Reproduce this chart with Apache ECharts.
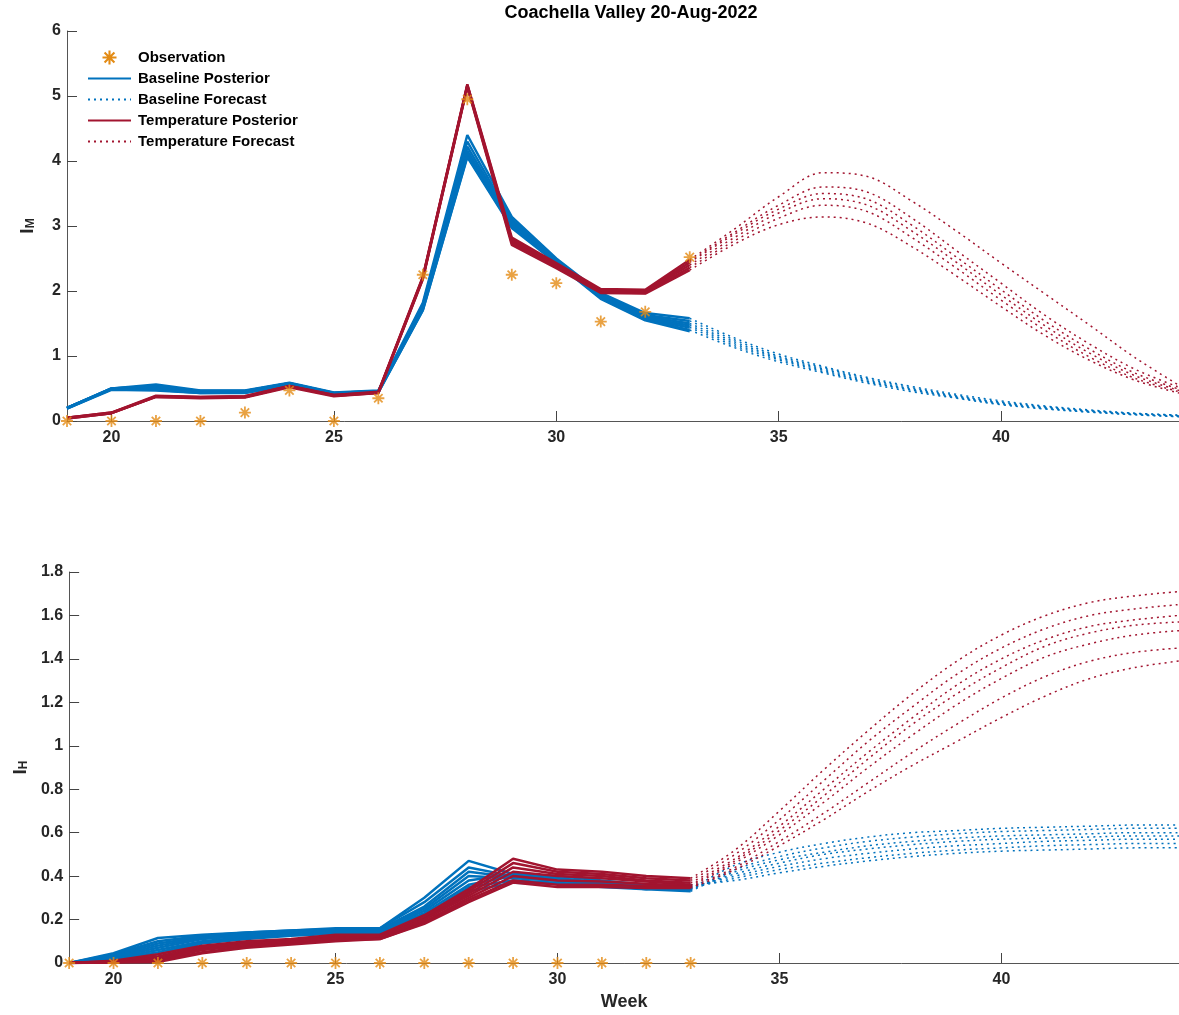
<!DOCTYPE html>
<html>
<head>
<meta charset="utf-8">
<title>Coachella Valley 20-Aug-2022</title>
<script src="https://cdn.jsdelivr.net/npm/echarts@6/dist/echarts.min.js"></script>
<style>
html, body { margin: 0; padding: 0; background: #fff; }
#main { width: 1179px; height: 1015px; }
</style>
</head>
<body>
<div id="main"></div>
<script>
// weeks
var weeksPost = [19, 20, 21, 22, 23, 24, 25, 26, 27, 28, 29, 30, 31, 32, 33];
var weeksFcst = [33, 34, 35, 36, 37, 38, 39, 40, 41, 42, 43, 44];

// observations
var obsM = [0, 0, 0, 0, 0.13, 0.47, 0, 0.35, 2.25, 4.95, 2.25, 2.12, 1.53, 1.68, 2.52];
var obsH = [0, 0, 0, 0, 0, 0, 0, 0, 0, 0, 0, 0, 0, 0, 0];

// I_M, baseline posterior members
var baseMPost = [
  [0.20, 0.50, 0.56, 0.47, 0.47, 0.59, 0.44, 0.47, 1.82, 4.40, 3.14, 2.50, 1.97, 1.66, 1.58],
  [0.20, 0.50, 0.54, 0.46, 0.46, 0.58, 0.43, 0.46, 1.79, 4.30, 3.10, 2.48, 1.95, 1.63, 1.54],
  [0.20, 0.50, 0.53, 0.46, 0.46, 0.58, 0.43, 0.46, 1.77, 4.22, 3.07, 2.47, 1.93, 1.61, 1.50],
  [0.20, 0.49, 0.51, 0.45, 0.45, 0.57, 0.42, 0.45, 1.75, 4.16, 3.04, 2.46, 1.92, 1.59, 1.47],
  [0.20, 0.49, 0.50, 0.44, 0.44, 0.56, 0.42, 0.45, 1.73, 4.12, 3.02, 2.45, 1.91, 1.57, 1.44],
  [0.19, 0.49, 0.48, 0.43, 0.44, 0.56, 0.41, 0.44, 1.71, 4.08, 2.99, 2.44, 1.89, 1.56, 1.40],
  [0.19, 0.48, 0.47, 0.43, 0.43, 0.55, 0.41, 0.44, 1.70, 4.06, 2.97, 2.43, 1.88, 1.55, 1.38]
];
// I_M, temperature posterior members
var tempMPost = [
  [0.05, 0.13, 0.39, 0.37, 0.38, 0.54, 0.40, 0.45, 2.22, 5.18, 2.82, 2.43, 2.03, 2.02, 2.48],
  [0.05, 0.13, 0.38, 0.37, 0.38, 0.54, 0.40, 0.44, 2.21, 5.17, 2.79, 2.41, 2.01, 2.00, 2.44],
  [0.05, 0.12, 0.38, 0.36, 0.37, 0.53, 0.39, 0.44, 2.20, 5.16, 2.76, 2.39, 2.00, 1.99, 2.40],
  [0.04, 0.12, 0.37, 0.36, 0.37, 0.53, 0.39, 0.43, 2.19, 5.15, 2.74, 2.37, 1.98, 1.97, 2.36],
  [0.04, 0.12, 0.37, 0.35, 0.36, 0.52, 0.38, 0.43, 2.18, 5.14, 2.71, 2.35, 1.97, 1.96, 2.32]
];
// I_M, baseline forecast members
var baseMFcst = [
  [1.58, 1.28, 1.03, 0.84, 0.67, 0.53, 0.41, 0.31, 0.23, 0.17, 0.12, 0.09],
  [1.54, 1.25, 1.00, 0.82, 0.65, 0.51, 0.39, 0.29, 0.22, 0.16, 0.115, 0.085],
  [1.50, 1.22, 0.98, 0.80, 0.63, 0.49, 0.38, 0.28, 0.21, 0.155, 0.11, 0.08],
  [1.47, 1.19, 0.96, 0.78, 0.61, 0.48, 0.37, 0.27, 0.20, 0.15, 0.105, 0.075],
  [1.44, 1.16, 0.94, 0.76, 0.60, 0.47, 0.36, 0.26, 0.19, 0.14, 0.10, 0.07],
  [1.40, 1.13, 0.91, 0.74, 0.58, 0.45, 0.35, 0.25, 0.185, 0.135, 0.095, 0.065]
];
// I_M, temperature forecast members
var tempMFcst = [
  [2.48, 2.95, 3.45, 3.82, 3.76, 3.38, 2.92, 2.43, 1.95, 1.47, 0.98, 0.55],
  [2.46, 2.90, 3.32, 3.60, 3.52, 3.12, 2.62, 2.12, 1.62, 1.18, 0.80, 0.52],
  [2.44, 2.87, 3.26, 3.50, 3.41, 3.01, 2.52, 2.02, 1.53, 1.10, 0.74, 0.49],
  [2.40, 2.82, 3.20, 3.42, 3.32, 2.92, 2.44, 1.94, 1.46, 1.04, 0.70, 0.47],
  [2.36, 2.77, 3.12, 3.32, 3.22, 2.82, 2.35, 1.86, 1.39, 0.98, 0.66, 0.45],
  [2.32, 2.72, 3.02, 3.14, 3.04, 2.68, 2.23, 1.76, 1.31, 0.93, 0.63, 0.43]
];

// I_H, baseline posterior members
var baseHPost = [
  [0, 0.045, 0.115, 0.13, 0.14, 0.15, 0.16, 0.16, 0.30, 0.47, 0.41, 0.39, 0.37, 0.35, 0.34],
  [0, 0.040, 0.100, 0.125, 0.14, 0.15, 0.155, 0.16, 0.28, 0.44, 0.40, 0.385, 0.365, 0.345, 0.335],
  [0, 0.035, 0.090, 0.12, 0.135, 0.145, 0.155, 0.155, 0.26, 0.42, 0.395, 0.38, 0.36, 0.34, 0.33],
  [0, 0.030, 0.080, 0.115, 0.13, 0.14, 0.15, 0.15, 0.25, 0.40, 0.39, 0.38, 0.36, 0.345, 0.34],
  [0, 0.025, 0.070, 0.11, 0.125, 0.14, 0.15, 0.15, 0.24, 0.38, 0.41, 0.40, 0.38, 0.36, 0.35],
  [0, 0.020, 0.060, 0.10, 0.12, 0.135, 0.145, 0.145, 0.23, 0.36, 0.40, 0.39, 0.37, 0.355, 0.345],
  [0, 0.015, 0.050, 0.095, 0.115, 0.13, 0.14, 0.14, 0.22, 0.35, 0.38, 0.37, 0.355, 0.345, 0.35],
  [0, 0.010, 0.040, 0.09, 0.11, 0.125, 0.135, 0.135, 0.21, 0.33, 0.37, 0.365, 0.35, 0.34, 0.36]
];
// I_H, temperature posterior members
var tempHPost = [
  [0, 0.010, 0.040, 0.080, 0.100, 0.110, 0.130, 0.130, 0.220, 0.34, 0.48, 0.43, 0.42, 0.40, 0.39],
  [0, 0.008, 0.030, 0.075, 0.095, 0.105, 0.125, 0.125, 0.210, 0.33, 0.46, 0.42, 0.41, 0.39, 0.38],
  [0, 0.006, 0.025, 0.070, 0.090, 0.100, 0.120, 0.120, 0.200, 0.32, 0.44, 0.41, 0.40, 0.38, 0.37],
  [0, 0.005, 0.020, 0.065, 0.085, 0.100, 0.115, 0.120, 0.200, 0.31, 0.42, 0.40, 0.39, 0.375, 0.36],
  [0, 0.004, 0.015, 0.060, 0.080, 0.095, 0.110, 0.115, 0.190, 0.30, 0.40, 0.38, 0.375, 0.365, 0.355],
  [0, 0.003, 0.010, 0.050, 0.075, 0.090, 0.105, 0.110, 0.185, 0.29, 0.38, 0.36, 0.36, 0.355, 0.35],
  [0, 0.002, 0.005, 0.045, 0.070, 0.085, 0.100, 0.110, 0.180, 0.28, 0.37, 0.35, 0.35, 0.345, 0.345]
];
// I_H, baseline forecast members
var baseHFcst = [
  [0.34, 0.45, 0.51, 0.55, 0.58, 0.60, 0.61, 0.62, 0.625, 0.63, 0.635, 0.635],
  [0.335, 0.43, 0.49, 0.53, 0.56, 0.58, 0.595, 0.605, 0.61, 0.615, 0.62, 0.62],
  [0.33, 0.42, 0.475, 0.51, 0.54, 0.56, 0.575, 0.585, 0.59, 0.595, 0.60, 0.60],
  [0.34, 0.41, 0.46, 0.50, 0.525, 0.545, 0.56, 0.57, 0.575, 0.58, 0.585, 0.585],
  [0.35, 0.40, 0.445, 0.48, 0.505, 0.525, 0.54, 0.55, 0.56, 0.565, 0.57, 0.57],
  [0.345, 0.39, 0.43, 0.46, 0.485, 0.505, 0.52, 0.53, 0.54, 0.545, 0.55, 0.55],
  [0.36, 0.38, 0.415, 0.445, 0.47, 0.49, 0.505, 0.515, 0.52, 0.525, 0.53, 0.53]
];
// I_H, temperature forecast members
var tempHFcst = [
  [0.39, 0.52, 0.70, 0.89, 1.07, 1.24, 1.39, 1.51, 1.60, 1.66, 1.69, 1.71],
  [0.38, 0.50, 0.66, 0.84, 1.02, 1.18, 1.33, 1.45, 1.54, 1.60, 1.63, 1.65],
  [0.37, 0.48, 0.63, 0.80, 0.97, 1.13, 1.28, 1.40, 1.49, 1.55, 1.58, 1.60],
  [0.36, 0.47, 0.61, 0.77, 0.94, 1.10, 1.24, 1.36, 1.46, 1.52, 1.555, 1.57],
  [0.355, 0.46, 0.59, 0.74, 0.90, 1.05, 1.19, 1.31, 1.41, 1.47, 1.51, 1.53],
  [0.35, 0.44, 0.56, 0.69, 0.83, 0.97, 1.10, 1.22, 1.32, 1.39, 1.43, 1.45],
  [0.345, 0.43, 0.54, 0.66, 0.79, 0.91, 1.02, 1.13, 1.23, 1.31, 1.36, 1.39]
];

var blue = '#0072BD';
var red = '#A2142F';
var orange = '#E38B14';
var textColor = '#262626';
var font = 'Liberation Sans, Arial, Helvetica, sans-serif';

// matlab-ish asterisk marker, drawn as 4 filled bars
var starPath = 'path://M0 8.5L20 8.5L20 11.5L0 11.5Z M8.5 0L11.5 0L11.5 20L8.5 20Z ' +
  'M4.0 1.9L18.1 16.0L16.0 18.1L1.9 4.0Z ' +
  'M16.0 1.9L18.1 4.0L4.0 18.1L1.9 16.0Z';

function pairs(xs, ys) {
  var out = [];
  for (var i = 0; i < xs.length; i++) out.push([xs[i], ys[i]]);
  return out;
}

function lineSeries(name, xs, ys, color, dotted, ax) {
  return {
    name: name,
    type: 'line',
    xAxisIndex: ax,
    yAxisIndex: ax,
    data: pairs(xs, ys),
    symbol: 'none',
    smooth: dotted ? 0.35 : false,
    silent: true,
    lineStyle: {
      color: color,
      width: dotted ? 1.5 : 2.5,
      type: dotted ? [2, 4] : 'solid'
    },
    itemStyle: { color: color },
    z: 2
  };
}

function obsSeries(ys, ax) {
  return {
    name: 'Observation',
    type: 'scatter',
    xAxisIndex: ax,
    yAxisIndex: ax,
    data: pairs(weeksPost, ys),
    symbol: starPath,
    symbolSize: 12,
    itemStyle: { color: orange },
    silent: true,
    z: 4
  };
}

var series = [];
series.push(obsSeries(obsM, 0));
baseMPost.forEach(function (m) { series.push(lineSeries('Baseline Posterior', weeksPost, m, blue, false, 0)); });
baseMFcst.forEach(function (m) { series.push(lineSeries('Baseline Forecast', weeksFcst, m, blue, true, 0)); });
tempMPost.forEach(function (m) { series.push(lineSeries('Temperature Posterior', weeksPost, m, red, false, 0)); });
tempMFcst.forEach(function (m) { series.push(lineSeries('Temperature Forecast', weeksFcst, m, red, true, 0)); });

series.push(obsSeries(obsH, 1));
baseHPost.forEach(function (m) { series.push(lineSeries('Baseline Posterior', weeksPost, m, blue, false, 1)); });
baseHFcst.forEach(function (m) { series.push(lineSeries('Baseline Forecast', weeksFcst, m, blue, true, 1)); });
tempHPost.forEach(function (m) { series.push(lineSeries('Temperature Posterior', weeksPost, m, red, false, 1)); });
tempHFcst.forEach(function (m) { series.push(lineSeries('Temperature Forecast', weeksFcst, m, red, true, 1)); });

function xAxisFor(ax, withName) {
  return {
    type: 'value',
    gridIndex: ax,
    min: 19,
    max: 44,
    splitNumber: 5,
    name: withName ? 'Week' : '',
    nameLocation: 'middle',
    nameGap: 30,
    nameTextStyle: { color: textColor, fontSize: 18, fontWeight: 'bold', fontFamily: font },
    axisLine: { lineStyle: { color: '#555', width: 1 } },
    axisTick: { inside: true, length: 10, lineStyle: { color: '#444' } },
    axisLabel: {
      showMinLabel: false, showMaxLabel: false, margin: 9,
      color: textColor, fontSize: 16, fontWeight: 'bold', fontFamily: font
    },
    splitLine: { show: false }
  };
}

function yAxisFor(ax, max, interval, sub) {
  return {
    type: 'value',
    gridIndex: ax,
    min: 0,
    max: max,
    interval: interval,
    name: '{i|I}{s|' + sub + '}',
    nameLocation: 'middle',
    nameGap: 30,
    nameTextStyle: {
      rich: {
        i: { fontSize: 19, fontWeight: 'bold', color: textColor, fontFamily: font, lineHeight: 22, verticalAlign: 'bottom' },
        s: { fontSize: 12, fontWeight: 'bold', color: textColor, fontFamily: font, lineHeight: 12, padding: [10, 0, 0, 0], verticalAlign: 'bottom' }
      }
    },
    axisLine: { lineStyle: { color: '#555', width: 1 } },
    axisTick: { inside: true, length: 10, lineStyle: { color: '#444' } },
    axisLabel: { margin: 6, color: textColor, fontSize: 16, fontWeight: 'bold', fontFamily: font },
    splitLine: { show: false }
  };
}

var chart = echarts.init(document.getElementById('main'), null, { renderer: 'canvas' });
chart.setOption({
  animation: false,
  backgroundColor: '#fff',
  title: {
    text: 'Coachella Valley 20-Aug-2022',
    left: 626,
    top: -1,
    textAlign: 'center',
    textStyle: { color: '#000', fontSize: 18, fontWeight: 'bold', fontFamily: font }
  },
  legend: {
    orient: 'vertical',
    left: 87,
    top: 50,
    padding: 0,
    itemWidth: 43,
    itemHeight: 14,
    itemGap: 6,
    selectedMode: false,
    // hide the marker that line series put in their legend icon
    itemStyle: { opacity: 0 },
    data: [
      { name: 'Observation', itemStyle: { opacity: 1 } },
      'Baseline Posterior', 'Baseline Forecast', 'Temperature Posterior', 'Temperature Forecast'
    ],
    textStyle: { color: '#000', fontSize: 15, fontWeight: 'bold', fontFamily: font, padding: [0, 0, 0, 2] }
  },
  grid: [
    { left: 67, top: 31, width: 1118, height: 390 },
    { left: 67, top: 572, width: 1118, height: 391 }
  ],
  xAxis: [xAxisFor(0, false), xAxisFor(1, true)],
  yAxis: [yAxisFor(0, 6, 1, 'M'), yAxisFor(1, 1.8, 0.2, 'H')],
  series: series
});
</script>
</body>
</html>
